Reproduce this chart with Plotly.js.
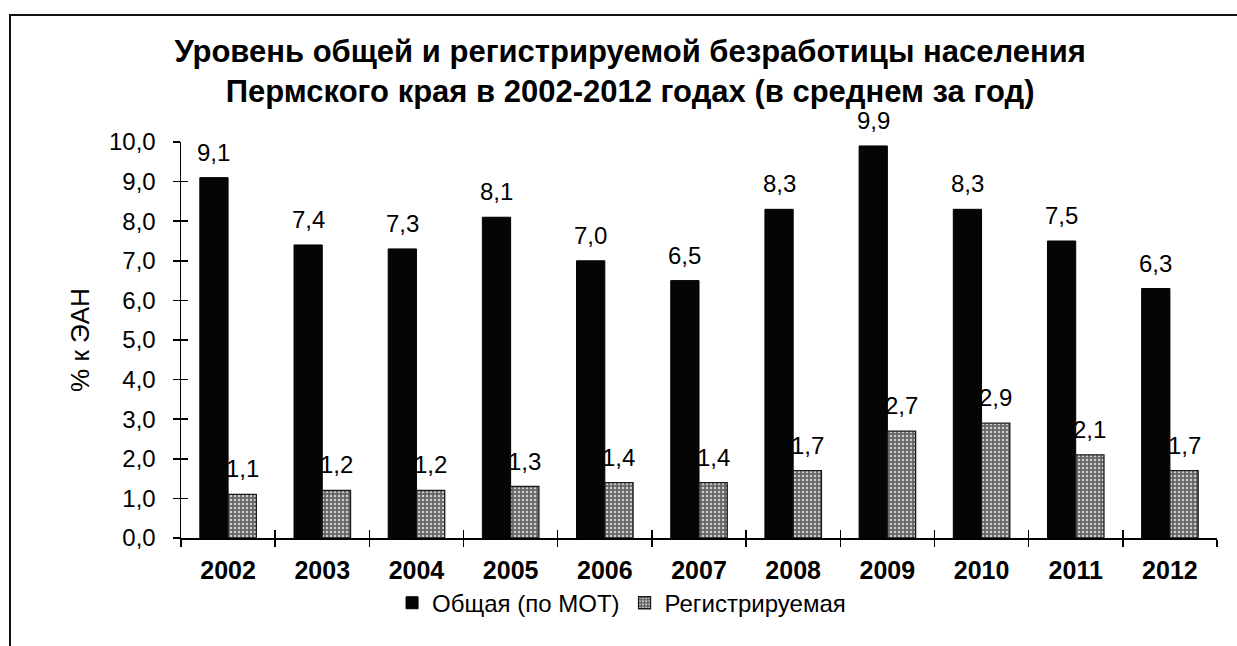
<!DOCTYPE html>
<html>
<head>
<meta charset="utf-8">
<script src="https://cdn.plot.ly/plotly-3.0.1.min.js"></script>
<style>
  html, body { margin: 0; padding: 0; background: #fff; }
  #frame { position: absolute; left: 9px; top: 14px; width: 1228px; height: 632px;
           border-left: 2px solid #111; border-top: 2px solid #111; box-sizing: border-box; }
  #chart { width: 1226px; height: 630px; }
</style>
</head>
<body>
<div id="frame"><div id="chart"></div></div>
<script>
const years = ['2002','2003','2004','2005','2006','2007','2008','2009','2010','2011','2012'];
const totalILO = [9.1, 7.4, 7.3, 8.1, 7.0, 6.5, 8.3, 9.9, 8.3, 7.5, 6.3];
const registered = [1.1, 1.2, 1.2, 1.3, 1.4, 1.4, 1.7, 2.7, 2.9, 2.1, 1.7];
const seriesNames = ['Общая (по МОТ)', 'Регистрируемая'];
const yTickVals = [0,1,2,3,4,5,6,7,8,9,10];
const titleText = 'Уровень общей и регистрируемой безработицы населения<br>Пермского края в 2002-2012 годах (в среднем за год)';
const yTitle = '% к ЭАН';

const FONT = 'Liberation Sans, Arial, sans-serif';
const fmt = v => v.toFixed(1).replace('.', ',');

const traces = [
  { type: 'bar', x: years, y: totalILO, name: seriesNames[0],
    marker: { color: '#050505', line: { color: '#000', width: 1 } }, hoverinfo: 'x+y' },
  { type: 'bar', x: years, y: registered, name: seriesNames[1],
    marker: { color: '#7f7f7f', line: { color: '#1a1a1a', width: 1.3 },
              pattern: { shape: '.', fgcolor: '#cfcfcf', bgcolor: '#666666', size: 4, solidity: 0.3 } },
    hoverinfo: 'x+y' }
];

const annotations = [];
totalILO.forEach((v, i) => annotations.push({
  x: i - 0.15, y: v, xref: 'x', yref: 'y', text: fmt(v), showarrow: false,
  yanchor: 'bottom', yshift: 10, font: { family: FONT, size: 24, color: '#000' }
}));
registered.forEach((v, i) => annotations.push({
  x: i + 0.15, y: v, xref: 'x', yref: 'y', text: fmt(v), showarrow: false,
  yanchor: 'bottom', yshift: 10, font: { family: FONT, size: 24, color: '#000' }
}));

const layout = {
  width: 1226, height: 630,
  margin: { l: 170, r: 20, t: 126, b: 108 },
  paper_bgcolor: '#fff', plot_bgcolor: '#fff',
  separators: ',.',
  font: { family: FONT, color: '#000' },
  title: { text: titleText, font: { family: FONT, size: 31, weight: 'bold', color: '#000' },
           x: 0.505, xref: 'container', xanchor: 'center', y: 0.927, yref: 'container', yanchor: 'middle' },
  barmode: 'group', bargap: 0.4, bargroupgap: 0,
  showlegend: true,
  legend: { orientation: 'h', x: 0.498, xanchor: 'center', xref: 'container', y: 0.068, yref: 'container', yanchor: 'middle',
            bgcolor: 'rgba(0,0,0,0)', font: { family: FONT, size: 24, color: '#000' }, itemwidth: 30, traceorder: 'normal' },
  xaxis: { type: 'category', categoryarray: years, range: [-0.5, 10.5], tickson: 'boundaries',
           ticks: 'outside', ticklen: 7, tickwidth: 1.5, tickcolor: '#000',
           showline: true, linecolor: '#000', linewidth: 1.5, showgrid: false, zeroline: false,
           tickfont: { family: FONT, size: 25, weight: 'bold', color: '#000' }, ticklabelstandoff: 9 },
  xaxis2: { overlaying: 'x', range: [-0.5, 10.5], tick0: 0.5, dtick: 1, ticks: 'inside', ticklen: 8,
            tickwidth: 1.5, tickcolor: '#000', showticklabels: false, showgrid: false, zeroline: false, showline: false },
  yaxis: { range: [0, 10], tickvals: yTickVals, tickformat: '.1f', ticks: 'outside', ticklen: 7, tickwidth: 1.5, tickcolor: '#000',
           showline: true, linecolor: '#000', linewidth: 1.5, showgrid: false, zeroline: false,
           tickfont: { family: FONT, size: 24, color: '#000' }, ticklabelstandoff: 12,
           title: { text: yTitle, font: { family: FONT, size: 26, color: '#000' }, standoff: 12 } },
  yaxis2: { overlaying: 'y', range: [0, 10], tickvals: yTickVals, ticks: 'inside', ticklen: 7, tickwidth: 1.5, tickcolor: '#000',
            showticklabels: false, showgrid: false, zeroline: false, showline: false },
  annotations: annotations
};

// invisible trace binding the overlay axes (used only for crossing tick marks)
traces.push({ type: 'scatter', x: [0], y: [0], xaxis: 'x2', yaxis: 'y2', mode: 'markers',
              marker: { opacity: 0 }, showlegend: false, hoverinfo: 'skip' });

Plotly.newPlot('chart', traces, layout, { displayModeBar: false, staticPlot: true });
</script>
</body>
</html>
